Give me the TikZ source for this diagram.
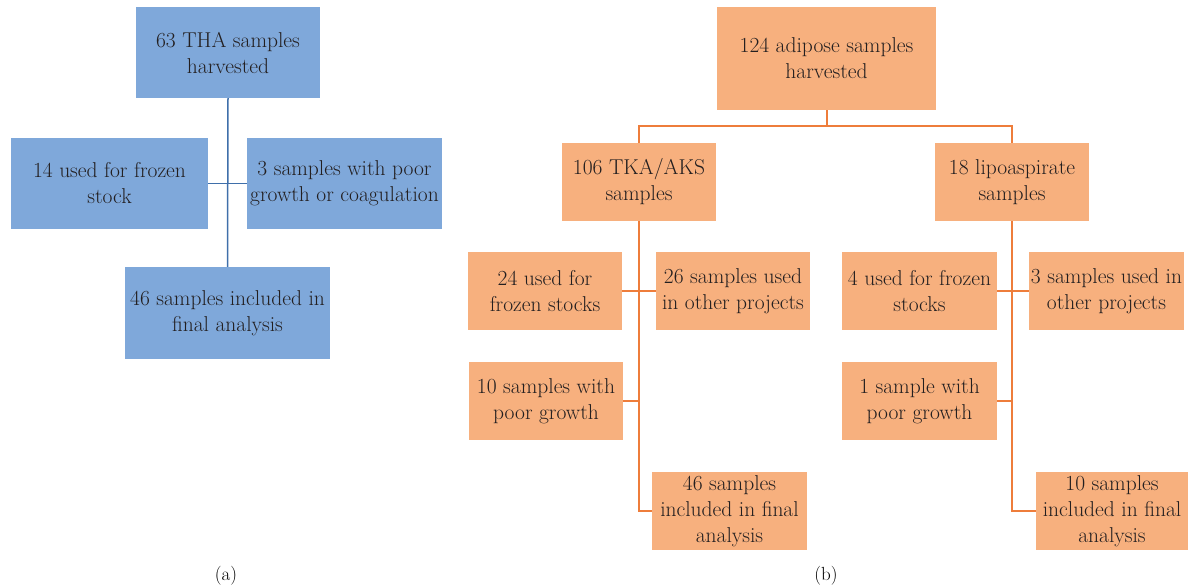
\documentclass[tikz,border=0pt]{standalone}
\usepackage{tikz}
\usetikzlibrary{positioning}
\definecolor{boxblue}{HTML}{7FA8DA}
\definecolor{lineblue}{HTML}{3F6FAA}
\definecolor{boxorange}{HTML}{F7B07E}
\definecolor{lineorange}{HTML}{EE7D3B}
\definecolor{inkgray}{HTML}{231F20}
\tikzset{
  blockA/.style={rectangle, fill=boxblue, align=center, text=inkgray,
    font=\fontsize{21.5}{26}\selectfont, inner sep=0pt},
  blockB/.style={rectangle, fill=boxorange, align=center, text=inkgray,
    font=\fontsize{21.5}{26}\selectfont, inner sep=0pt,
    minimum width=154pt, minimum height=78pt},
  linkA/.style={draw=lineblue, line width=1.5pt},
  linkB/.style={draw=lineorange, line width=2pt},
}
\begin{document}
\begin{tikzpicture}[x=1pt, y=-1pt]
            \useasboundingbox (0,0) rectangle (1188,588);
            % (a) THA samples
            \node[blockA, minimum width=184pt, minimum height=91pt] (tha) at (228,52.5) {63 THA samples\\harvested};
            \node[blockA, minimum width=197pt, minimum height=91pt] (frozenA) at (109.5,183.5) {14 used for frozen\\stock};
            \node[blockA, minimum width=195pt, minimum height=91pt] (poorA) at (344.5,183.5) {3 samples with poor\\growth or coagulation};
            \node[blockA, minimum width=205pt, minimum height=92pt] (finalA) at (227.5,313) {46 samples included in\\final analysis};
            \draw[linkA] (tha.south) -- (finalA.north);
            \draw[linkA] (frozenA.east) -- (poorA.west);
            % (b) adipose samples
            \node[blockB, minimum width=219pt, minimum height=103pt] (adipose) at (826.5,58.5) {124 adipose samples\\harvested};
            \coordinate (splitB) at (826.5,126);
            \node[blockB] (tka) at (639,182) {106 TKA/AKS\\samples};
            \node[blockB] (lipo) at (1012,182) {18 lipoaspirate\\samples};
            % TKA/AKS branch
            \node[blockB] (frozenB) at (545,291) {24 used for\\frozen stocks};
            \node[blockB] (otherB) at (733,291) {26 samples used\\in other projects};
            \node[blockB] (poorB) at (546,401) {10 samples with\\poor growth};
            \node[blockB, minimum width=155pt] (finalB) at (729.5,511) {46 samples\\included in final\\analysis};
            % lipoaspirate branch
            \node[blockB, minimum width=155pt] (frozenC) at (919.5,291) {4 used for frozen\\stocks};
            \node[blockB, minimum width=155pt] (otherC) at (1106.5,291) {3 samples used in\\other projects};
            \node[blockB, minimum width=155pt] (poorC) at (919.5,401) {1 sample with\\poor growth};
            \node[blockB, minimum width=152pt] (finalC) at (1112,511) {10 samples\\included in final\\analysis};
            % Connectors
            \draw[linkB] (adipose.south) -- (splitB);
            \draw[linkB] (tka.north) |- (splitB) -| (lipo.north);
            \draw[linkB] (tka.south) |- (finalB.west);
            \draw[linkB] (frozenB.east) -- (otherB.west);
            \draw[linkB] (poorB.east) -- (poorB.east -| tka.south);
            \draw[linkB] (lipo.south) |- (finalC.west);
            \draw[linkB] (frozenC.east) -- (otherC.west);
            \draw[linkB] (poorC.east) -- (poorC.east -| lipo.south);
            % Panel labels
            \node[font=\fontsize{19}{20}\selectfont] (labelA) at (226,576) {(a)};
            \node[font=\fontsize{19}{20}\selectfont] (labelB) at (826,576) {(b)};
        \end{tikzpicture}
\end{document}
